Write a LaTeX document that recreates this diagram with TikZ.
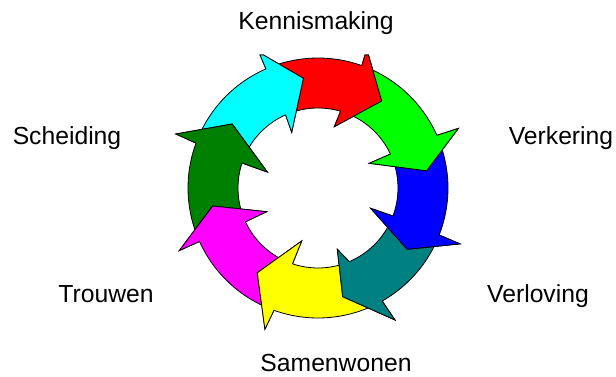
\documentclass[tikz,border=0pt]{standalone}
\usepackage{fontspec}
\setmainfont{Liberation Sans}
\definecolor{cRed}{RGB}{255,0,0}
\definecolor{cGreen}{RGB}{0,255,0}
\definecolor{cBlue}{RGB}{0,0,255}
\definecolor{cTeal}{RGB}{0,128,128}
\definecolor{cYellow}{RGB}{255,255,0}
\definecolor{cMagenta}{RGB}{255,0,255}
\definecolor{cDkGreen}{RGB}{0,128,0}
\definecolor{cCyan}{RGB}{0,255,255}
% #1 colour, #2 tail outer angle, #3 tail inner angle, #4 outer notch angle, #5 inner notch angle, #6 outer wing, #7 tip, #8 inner wing
\newcommand\RingArrow[8]{%
  \filldraw[fill=#1, arrowline] (#2:130) arc[start angle=#2, end angle=#4, radius=130]
    -- #6 -- #7 -- #8 -- (#5:80) arc[start angle=#5, end angle=#3, radius=80] -- cycle;}
\newcommand\RingHead[6]{%
  \fill[#1] (#2:130) -- #4 -- #5 -- #6 -- (#3:80) -- cycle;
  \draw[arrowline] (#2:130) -- #4 -- #5 -- #6 -- (#3:80);}
\begin{document}
\begin{tikzpicture}[x=1pt, y=1pt,
  arrowline/.style={draw=black, line width=0.8pt, line join=miter},
  lbl/.style={font=\fontsize{24.7}{29}\selectfont, anchor=base, inner sep=0pt}]
\useasboundingbox (0,0) rectangle (616,377);
\fill[white] (0,0) rectangle (616,377);
\begin{scope}[shift={(318,189)}]
  % bodies (drawn in reverse cycle order)
  \RingArrow{cRed}{110.5}{109.5}{70.3}{73.6}{(47,133) -- (50.5,133)}{(63.7,87.0)}{(16.3,61.3)}
  \RingArrow{cCyan}{156.5}{155.5}{113.6}{113.9}{(-58,133) -- (-54.5,133)}{(-14.6,109.7)}{(-26.3,55.7)}
  \RingArrow{cDkGreen}{201.5}{200}{159.8}{161.8}{(-142.1,54.0)}{(-85.8,64.0)}{(-50.6,15.9)}
  \RingArrow{cMagenta}{247.5}{246}{204.3}{205}{(-138.7,-62.6)}{(-105.3,-18.0)}{(-51.3,-23.7)}
  \RingArrow{cYellow}{296}{289}{250.2}{251.4}{(-53.1,-141.2)}{(-60.7,-84.8)}{(-16.3,-53.0)}
  \RingArrow{cTeal}{336}{335}{299.6}{293}{(77,-132)}{(24.7,-108.7)}{(19.3,-61.3)}
  \RingArrow{cBlue}{20.5}{20}{-21.2}{-20.5}{(142.0,-55.9)}{(89.3,-61.3)}{(52.6,-20.3)}
  \RingArrow{cGreen}{67.5}{68.5}{23.9}{25.1}{(140.4,59.6)}{(108.6,17.2)}{(51.3,24.7)}
  % heads on top
  \RingHead{cRed}{70.3}{73.6}{(47,133) -- (50.5,133)}{(63.7,87.0)}{(16.3,61.3)}
  \RingHead{cCyan}{113.6}{113.9}{(-58,133) -- (-54.5,133)}{(-14.6,109.7)}{(-26.3,55.7)}
  \RingHead{cDkGreen}{159.8}{161.8}{(-142.1,54.0)}{(-85.8,64.0)}{(-50.6,15.9)}
  \RingHead{cMagenta}{204.3}{205}{(-138.7,-62.6)}{(-105.3,-18.0)}{(-51.3,-23.7)}
  \RingHead{cYellow}{250.2}{251.4}{(-53.1,-141.2)}{(-60.7,-84.8)}{(-16.3,-53.0)}
  \RingHead{cTeal}{299.6}{293}{(77,-132)}{(24.7,-108.7)}{(19.3,-61.3)}
  \RingHead{cBlue}{-21.2}{-20.5}{(142.0,-55.9)}{(89.3,-61.3)}{(52.6,-20.3)}
  \RingHead{cGreen}{23.9}{25.1}{(140.4,59.6)}{(108.6,17.2)}{(51.3,24.7)}
\end{scope}
\node[lbl] (kennis) at (316,347) {Kennismaking};
\node[lbl] (verkering) at (561,232) {Verkering};
\node[lbl] (verloving) at (538,74) {Verloving};
\node[lbl] (samen) at (336,5.5) {Samenwonen};
\node[lbl] (trouwen) at (106,74) {Trouwen};
\node[lbl] (scheiding) at (67,232) {Scheiding};
\end{tikzpicture}
\end{document}
